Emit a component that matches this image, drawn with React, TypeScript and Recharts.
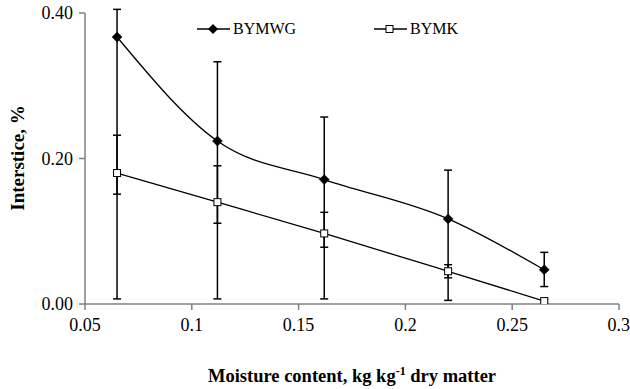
import React from "react";
import { LineChart, Line, XAxis, YAxis, ErrorBar } from "recharts";

// Moisture content (kg kg-1 dry matter)
const moisture = [0.065, 0.112, 0.162, 0.22, 0.265];

// Interstice (%) for each bean sample
const bymwg = [0.367, 0.224, 0.171, 0.117, 0.047];
const bymk = [0.18, 0.14, 0.097, 0.045, 0.004];

// Error bar ends (lower, upper) in %
const bymwgLow = [0.007, 0.007, 0.007, 0.005, 0.024];
const bymwgHigh = [0.405, 0.333, 0.257, 0.184, 0.071];
const bymkLow = [0.151, 0.111, 0.078, 0.036, 0.001];
const bymkHigh = [0.232, 0.19, 0.126, 0.054, 0.007];

const xTicks = [0.05, 0.1, 0.15, 0.2, 0.25, 0.3];
const yTicks = [0, 0.2, 0.4];

const data = moisture.map((x, i) => ({
  x,
  wg: bymwg[i],
  mk: bymk[i],
  wgErr: [bymwg[i] - bymwgLow[i], bymwgHigh[i] - bymwg[i]],
  mkErr: [bymk[i] - bymkLow[i], bymkHigh[i] - bymk[i]],
}));

const FONT = "'Times New Roman', Times, 'Liberation Serif', 'DejaVu Serif', 'Noto Serif', serif";
const AXIS = "#808080";

const Diamond = (props: any) => {
  const { cx, cy } = props;
  if (cx == null || cy == null) return null;
  const r = 5;
  return (
    <polygon
      points={`${cx},${cy - r} ${cx + r},${cy} ${cx},${cy + r} ${cx - r},${cy}`}
      fill="#000"
      stroke="#000"
      strokeWidth={0.5}
    />
  );
};

const Square = (props: any) => {
  const { cx, cy } = props;
  if (cx == null || cy == null) return null;
  return (
    <rect x={cx - 3.5} y={cy - 3.5} width={7} height={7} fill="#fff" stroke="#000" strokeWidth={1} />
  );
};

const LegendBox = () => (
  <div
    style={{
      position: "absolute",
      left: 0,
      top: 19,
      width: 630,
      height: 20,
      fontFamily: FONT,
      fontSize: 16,
      color: "#000",
      pointerEvents: "none",
    }}
  >
    <svg width={34} height={12} style={{ position: "absolute", left: 197, top: 4 }}>
      <line x1={0} y1={6} x2={33} y2={6} stroke="#000" strokeWidth={1.3} />
      <polygon points="16,1 21,6 16,11 11,6" fill="#000" />
    </svg>
    <span style={{ position: "absolute", left: 233, top: 0, lineHeight: "20px" }}>BYMWG</span>
    <svg width={34} height={12} style={{ position: "absolute", left: 374, top: 4 }}>
      <line x1={0} y1={6} x2={33} y2={6} stroke="#000" strokeWidth={1.3} />
      <rect x={12} y={2.5} width={7} height={7} fill="#fff" stroke="#000" strokeWidth={1} />
    </svg>
    <span style={{ position: "absolute", left: 410, top: 0, lineHeight: "20px" }}>BYMK</span>
  </div>
);

const XLabel = (props: any) => {
  const vb = props.viewBox || {};
  const cx = vb.x + vb.width / 2;
  return (
    <text x={cx} y={382} textAnchor="middle" style={{ fontFamily: FONT }} fontSize={18.5} fontWeight="bold" fill="#000">
      <tspan>Moisture content, kg kg</tspan>
      <tspan dy={-7} fontSize={12}>-1</tspan>
      <tspan dy={7}> dry matter</tspan>
    </text>
  );
};

const YLabel = () => (
  <text
    x={24}
    y={158}
    transform="rotate(-90 24 158)"
    textAnchor="middle"
    style={{ fontFamily: FONT }}
    fontSize={19}
    fontWeight="bold"
    fill="#000"
  >
    Interstice, %
  </text>
);

export default function App() {
  return (
    <div
      style={{
        position: "absolute",
        left: 0,
        top: 0,
        width: 630,
        height: 389,
        background: "#fff",
        fontFamily: FONT,
      }}
    >
      <LineChart
        width={630}
        height={389}
        data={data}
        margin={{ top: 13, right: 11, left: 0, bottom: 0 }}
        style={{ fontFamily: FONT }}
      >
        <XAxis
          dataKey="x"
          type="number"
          domain={[0.05, 0.3]}
          ticks={xTicks}
          allowDataOverflow
          height={85}
          stroke={AXIS}
          strokeWidth={1.5}
          tickSize={6}
          tickMargin={8}
          tick={{ fill: "#000", fontSize: 18, style: { fontFamily: FONT } }}
          label={<XLabel />}
        />
        <YAxis
          type="number"
          domain={[0, 0.4]}
          ticks={yTicks}
          allowDataOverflow
          width={85}
          stroke={AXIS}
          strokeWidth={1.5}
          tickSize={6}
          tickMargin={6}
          tickFormatter={(v: number) => v.toFixed(2)}
          tick={{ fill: "#000", fontSize: 18, style: { fontFamily: FONT } }}
          label={<YLabel />}
        />
        <Line
          dataKey="wg"
          name="BYMWG"
          type="monotone"
          stroke="#000"
          strokeWidth={1.3}
          dot={<Diamond />}
          activeDot={false}
          isAnimationActive={false}
        >
          <ErrorBar dataKey="wgErr" width={4} stroke="#000" strokeWidth={1.5} direction="y" />
        </Line>
        <Line
          dataKey="mk"
          name="BYMK"
          type="monotone"
          stroke="#000"
          strokeWidth={1.3}
          dot={<Square />}
          activeDot={false}
          isAnimationActive={false}
        >
          <ErrorBar dataKey="mkErr" width={4} stroke="#000" strokeWidth={1.5} direction="y" />
        </Line>
      </LineChart>
      <LegendBox />
    </div>
  );
}
